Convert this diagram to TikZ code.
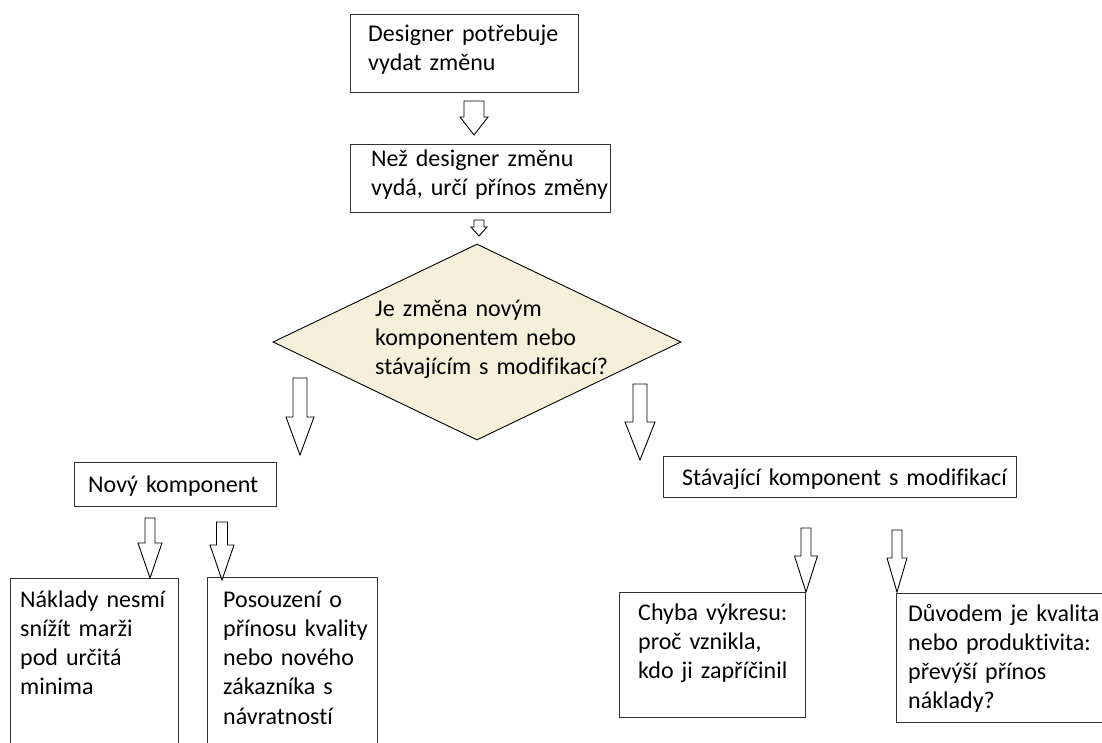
\documentclass[tikz,border=0pt]{standalone}
\usepackage{fontspec}
\setmainfont{Carlito}[Ligatures=NoCommon]
\usepackage{tikz}
\usetikzlibrary{shapes.geometric,positioning,calc}
\definecolor{decfill}{RGB}{246,239,217}
\definecolor{boxline}{RGB}{50,50,50}

\begin{document}
\begin{tikzpicture}[x=1pt,y=-1pt,
  font=\fontsize{24}{29.3}\selectfont,
  box/.style={draw=boxline,line width=1.2pt,rectangle,anchor=north west,inner sep=0pt},
  txt/.style={anchor=base west,align=left,text width=260pt,inner sep=0pt},
  barrow/.style={draw=black,line width=0.9pt,fill=white,line join=miter},
]
  \clip (0,0) rectangle (1102,742);

  % boxes
  \node[box,minimum width=228pt,minimum height=78pt] (need) at (350,14) {};
  \node[box,minimum width=260pt,minimum height=68pt] (gain) at (350,144) {};
  \node[diamond,draw=black,line width=0.9pt,fill=decfill,inner sep=0pt,
        minimum width=408pt,minimum height=196pt] (ask) at (477,342) {};
  \node[box,minimum width=202pt,minimum height=44pt] (new) at (74,462) {};
  \node[box,minimum width=353pt,minimum height=41pt] (mod) at (663,456) {};
  \node[box,minimum width=168pt,minimum height=200pt] (cost) at (10,578) {};
  \node[box,minimum width=170pt,minimum height=200pt] (judge) at (207,577) {};
  \node[box,minimum width=186pt,minimum height=125pt] (fault) at (619,592) {};
  \node[box,minimum width=230pt,minimum height=129pt] (reason) at (896,593) {};

  % texts
  \node[txt] (needt) at ($(need.north west)+(18,27)$) {Designer potřebuje\\vydat změnu};
  \node[txt] (gaint) at ($(gain.north west)+(21,22)$) {Než designer změnu\\vydá, určí přínos změny};
  \node[txt] (askt) at (375,316) {Je změna novým\\komponentem nebo\\stávajícím s modifikací?};
  \node[txt] (newt) at ($(new.north west)+(14,30)$) {Nový komponent};
  \node[txt,text width=360pt] (modt) at ($(mod.north west)+(19,29)$) {Stávající komponent s modifikací};
  \node[txt] (costt) at ($(cost.north west)+(10,29)$) {Náklady nesmí\\snížít marži\\pod určitá\\minima};
  \node[txt] (judget) at ($(judge.north west)+(16,30)$) {Posouzení o\\přínosu kvality\\nebo nového\\zákazníka s\\návratností};
  \node[txt] (faultt) at ($(fault.north west)+(19,28)$) {Chyba výkresu:\\proč vznikla,\\kdo ji zapříčinil};
  \node[txt] (reasont) at ($(reason.north west)+(12,28)$) {Důvodem je kvalita\\nebo produktivita:\\převýší přínos\\náklady?};

  % block arrows: centre / top / shoulder / tip / half shaft / half head
  \foreach \x/\t/\s/\e/\w/\h in {474/101/117/135/10/14, 479/220/227/236/5/8,
      300/378/417/455/7/14, 640/384/422/460/7/15,
      150/518/543/578/5/12, 222/522/545/580/5.5/12,
      806/528/556/592/5/11.5, 897/530/558/592/5/10} {
    \draw[barrow] (\x-\w,\t) -- (\x+\w,\t) -- (\x+\w,\s) -- (\x+\h,\s)
      -- (\x,\e) -- (\x-\h,\s) -- (\x-\w,\s) -- cycle;
  }
\end{tikzpicture}
\end{document}
